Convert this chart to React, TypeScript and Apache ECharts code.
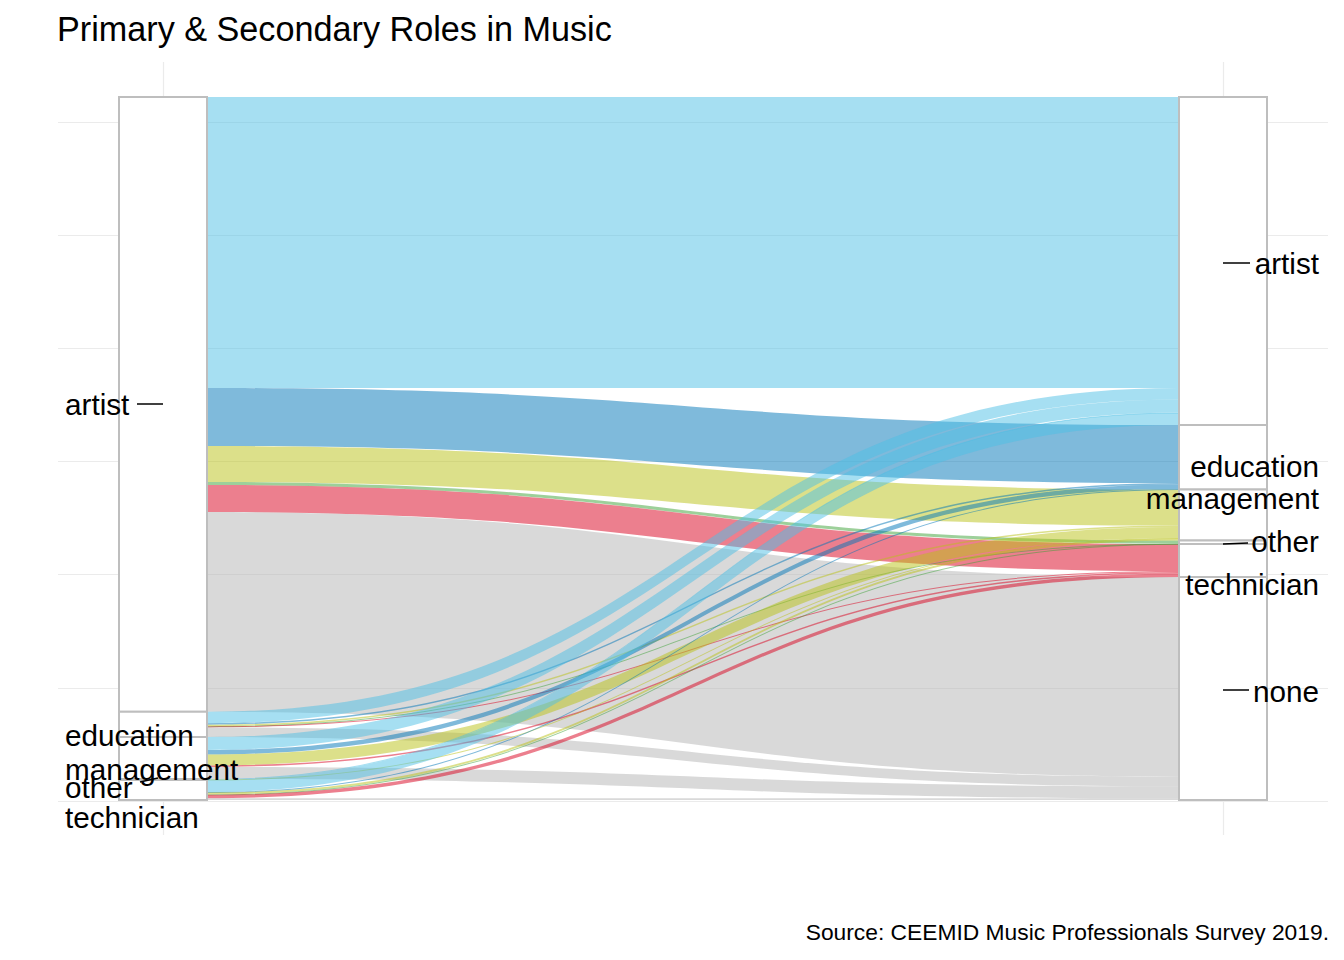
import React, { useEffect, useRef } from "react";
import * as echarts from "echarts";

// Primary (left) and secondary (right) roles of music professionals
const primaryRoles = ["artist", "education", "management", "other", "technician"];
const secondaryRoles = ["artist", "education", "management", "other", "technician", "none"];

// Weight of respondents moving from one primary role to each secondary role
// (order of secondaryRoles)
const fromArtist = [291, 58, 36, 3, 27, 199.7];
const fromEducation = [11.5, 1.5, 1.5, 0.2, 1.0, 9.6];
const fromManagement = [13, 4.5, 11, 0, 1.5, 12];
const fromOther = [0.6, 0, 0.4, 0, 0, 0];
const fromTechnician = [12, 0.5, 2, 0.3, 3.5, 1.7];

// Flow colours, keyed by the secondary role
const roleColors = ["#4DC0E6", "#0075B7", "#B9C115", "#3BA135", "#D9001D", "#B3B3B3"];

const titleText = "Primary & Secondary Roles in Music";
const captionText = "Source: CEEMID Music Professionals Survey 2019.";

export default function App() {
  const ref = useRef<HTMLDivElement>(null);

  useEffect(() => {
    document.body.style.margin = "0";
    const chart = echarts.init(ref.current!, null, { renderer: "svg" });
    const font = "'Liberation Sans', Arial, sans-serif";

    // repelled label offsets (vertical shift from the stratum centre)
    const leftShift = [0.6, 10.7, 11, 7.5, 27];
    const rightShift = [2.5, 9.6, -16.7, -1, 24, 3];

    const nodes = [
      ...primaryRoles.map((r, i) => ({
        name: `primary:${r}`,
        depth: 0,
        label: {
          position: [-53, "50%"],
          offset: [0, leftShift[i]],
          align: "left",
          verticalAlign: "middle",
        },
      })),
      ...secondaryRoles.map((r, i) => ({
        name: `secondary:${r}`,
        depth: 1,
        label: {
          position: [141, "50%"],
          offset: [0, rightShift[i]],
          align: "right",
          verticalAlign: "middle",
        },
      })),
    ];

    const flowTable = [fromArtist, fromEducation, fromManagement, fromOther, fromTechnician];
    const links = flowTable.flatMap((row, i) =>
      row
        .map((v, j) => ({
          source: `primary:${primaryRoles[i]}`,
          target: `secondary:${secondaryRoles[j]}`,
          value: v,
          lineStyle: { color: roleColors[j] },
        }))
        .filter((l) => l.value > 0)
    );

    const gridLine = { lineStyle: { color: "#EBEBEB", width: 1.2 } };
    const leader = (x1: number, y1: number, x2: number, y2: number) => ({
      type: "line",
      z: 100,
      silent: true,
      shape: { x1, y1, x2, y2 },
      style: { stroke: "#000", lineWidth: 1.5 },
    });

    chart.setOption({
      animation: false,
      backgroundColor: "#fff",
      grid: [
        { left: 58, right: 16, top: 122, height: 679 },
        { left: 163, width: 1060, top: 62, height: 773 },
      ],
      xAxis: [
        { gridIndex: 0, type: "value", show: false, min: 0, max: 1 },
        {
          gridIndex: 1,
          type: "value",
          min: 0,
          max: 1,
          interval: 1,
          axisLabel: { show: false },
          axisLine: { show: false },
          axisTick: { show: false },
          splitLine: gridLine,
        },
      ],
      yAxis: [
        {
          gridIndex: 0,
          type: "value",
          min: 0,
          max: 6,
          interval: 1,
          axisLabel: { show: false },
          axisLine: { show: false },
          axisTick: { show: false },
          splitLine: gridLine,
        },
        { gridIndex: 1, type: "value", show: false, min: 0, max: 1 },
      ],
      series: [
        {
          type: "sankey",
          left: 119,
          top: 97,
          width: 1148,
          height: 703,
          nodeWidth: 88,
          nodeGap: 0,
          layoutIterations: 0,
          draggable: false,
          silent: true,
          emphasis: { disabled: true },
          itemStyle: { color: "#fff", borderColor: "#BEBEBE", borderWidth: 2 },
          lineStyle: { opacity: 0.5, curveness: 0.5 },
          label: {
            show: true,
            color: "#000",
            fontSize: 29.7,
            fontFamily: font,
            formatter: (p: any) => String(p.name).split(":")[1],
          },
          data: nodes,
          links,
        },
      ],
      graphic: [
        {
          type: "text",
          x: 57,
          y: 29,
          style: {
            text: titleText,
            fontSize: 34.2,
            fontFamily: font,
            fill: "#000",
            align: "left",
            verticalAlign: "middle",
          },
        },
        {
          type: "text",
          x: 1329,
          y: 932,
          style: {
            text: captionText,
            fontSize: 22.8,
            fontFamily: font,
            fill: "#000",
            align: "right",
            verticalAlign: "middle",
          },
        },
        leader(137, 404, 163, 404),
        leader(140, 782, 158, 778),
        leader(1223, 263, 1250, 263),
        leader(1223, 544, 1248, 543),
        leader(1223, 690, 1249, 690),
      ],
    });

    return () => chart.dispose();
  }, []);

  return <div ref={ref} style={{ width: 1344, height: 960 }} />;
}
